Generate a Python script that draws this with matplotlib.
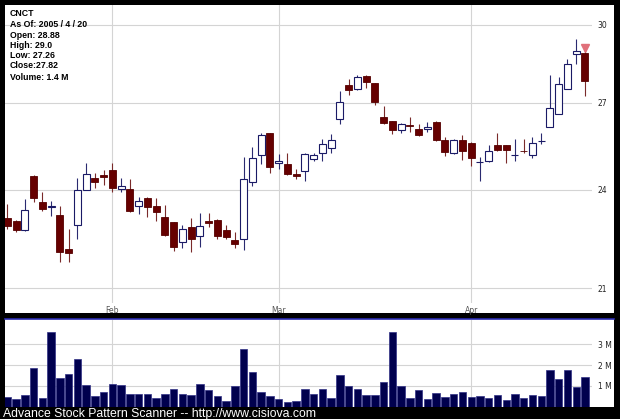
import matplotlib
matplotlib.use("Agg")
import matplotlib.pyplot as plt
import matplotlib.ticker as mticker
from matplotlib.patches import Rectangle
from matplotlib.lines import Line2D
import numpy as np
import pandas as pd

# ---------------- data ----------------
ticker = "CNCT"
holidays = ["2005-01-17", "2005-02-21", "2005-03-25"]
dates = pd.bdate_range("2005-01-13", "2005-04-20", freq="C", holidays=holidays)

opens = [23.09, 23.02, 22.74, 24.46, 23.60, 23.45, 23.20, 22.14, 22.88, 24.00,
         24.40, 24.50, 24.66, 24.01, 24.02, 23.47, 23.72, 23.47, 23.14, 22.97,
         22.36, 22.81, 22.54, 23.02, 23.04, 22.74, 22.43, 22.46, 24.24, 25.16,
         25.90, 24.87, 24.86, 24.51, 24.62, 25.01, 25.22, 25.41, 26.42, 27.67,
         27.52, 28.01, 27.73, 26.48, 26.33, 26.01, 26.21, 26.07, 26.05, 26.30,
         25.66, 25.22, 25.66, 25.58, 24.91, 24.94, 25.49, 25.49, 25.14, 25.30,
         25.16, 25.63, 26.14, 26.60, 27.51, 28.85, 28.88]
highs = [23.54, 23.05, 23.70, 24.48, 23.93, 23.65, 23.49, 22.76, 24.37, 24.90,
         24.55, 24.66, 24.88, 24.37, 24.35, 23.76, 23.76, 23.72, 23.51, 22.99,
         22.88, 23.10, 23.26, 23.26, 23.07, 22.89, 22.67, 25.10, 25.43, 25.90,
         25.92, 25.18, 25.24, 24.68, 25.22, 25.24, 25.72, 25.87, 27.43, 27.88,
         28.04, 28.03, 27.75, 26.88, 26.35, 26.28, 26.48, 26.25, 26.32, 26.34,
         25.79, 25.70, 25.84, 25.60, 25.10, 25.49, 25.93, 25.51, 25.72, 25.70,
         25.76, 25.90, 28.04, 27.96, 28.64, 29.43, 29.00]
lows = [22.76, 22.66, 22.71, 23.61, 23.33, 23.17, 21.76, 21.76, 22.44, 23.98,
        24.05, 24.15, 23.94, 23.94, 23.28, 23.23, 23.12, 23.02, 22.54, 22.08,
        22.19, 22.06, 22.21, 22.81, 22.46, 22.44, 22.18, 22.11, 24.13, 24.85,
        24.55, 24.68, 24.48, 24.35, 24.29, 24.96, 24.96, 25.24, 26.22, 27.27,
        27.48, 27.55, 26.93, 26.22, 25.87, 25.93, 25.95, 25.81, 25.95, 25.64,
        25.13, 25.18, 24.99, 24.77, 24.29, 24.92, 25.29, 24.90, 24.96, 25.21,
        25.04, 25.52, 26.12, 26.58, 27.49, 28.45, 27.26]
closes = [22.86, 22.74, 23.35, 23.73, 23.38, 23.47, 22.06, 22.04, 24.00, 24.51,
          24.26, 24.42, 24.05, 24.11, 23.33, 23.65, 23.44, 23.30, 22.58, 22.21,
          22.75, 22.44, 22.86, 22.95, 22.54, 22.50, 22.29, 24.35, 25.07, 25.84,
          24.76, 24.95, 24.52, 24.46, 25.18, 25.15, 25.52, 25.66, 27.04, 27.48,
          27.94, 27.76, 27.03, 26.28, 26.02, 26.22, 26.16, 25.84, 26.12, 25.66,
          25.25, 25.66, 25.29, 25.04, 24.93, 25.29, 25.33, 25.33, 25.16, 25.28,
          25.58, 25.65, 26.82, 27.70, 28.46, 28.96, 27.82]
volumes_m = [0.44, 0.35, 0.56, 1.85, 0.41, 3.60, 1.39, 1.57, 2.31, 1.03,
             0.51, 0.70, 1.09, 1.05, 0.62, 0.62, 0.62, 0.41, 0.59, 0.83,
             0.59, 0.56, 1.07, 0.80, 0.49, 0.28, 0.99, 2.78, 1.68, 0.70,
             0.51, 0.35, 0.22, 0.28, 0.83, 0.59, 0.83, 0.41, 1.50, 1.00,
             0.83, 0.56, 0.56, 1.20, 3.60, 1.00, 0.41, 0.80, 0.35, 0.65,
             0.44, 0.59, 0.70, 0.44, 0.52, 0.41, 0.56, 0.31, 0.62, 0.41,
             0.56, 0.49, 1.74, 1.31, 1.78, 0.93, 1.44]

price_ticks = [21, 24, 27, 30]
volume_ticks = [1, 2, 3]
volume_labels = ["1 M", "2 M", "3 M"]

info_lines = ["CNCT", "As Of: 2005 / 4 / 20", "Open: 28.88", "High: 29.0",
              "Low: 27.26", "Close:27.82", "Volume: 1.4 M"]
footer = "Advance Stock Pattern Scanner -- http://www.cisiova.com"

# ---------------- layout ----------------
W, H = 620, 419
fig = plt.figure(figsize=(W / 100, H / 100), dpi=100, facecolor="black")


def fr(x0, y0, x1, y1):
    """pixel box (top-left origin) -> figure fraction rect"""
    return [x0 / W, 1 - y1 / H, (x1 - x0) / W, (y1 - y0) / H]


# white panels
for (x0, y0, x1, y1) in [(5, 5, 614, 313), (5, 319, 614, 407)]:
    r = fr(x0, y0, x1, y1)
    fig.patches.append(Rectangle((r[0], r[1]), r[2], r[3], transform=fig.transFigure,
                                 facecolor="white", edgecolor="none", zorder=-5))
fig.lines.append(Line2D([5 / W, 614 / W], [1 - 319 / H, 1 - 319 / H],
                        transform=fig.transFigure, color="#2b2bb0", lw=1.2, zorder=5))

ax = fig.add_axes(fr(5, 5, 592, 303))
axv = fig.add_axes(fr(5, 320, 592, 406.5))

x = np.arange(len(dates))
o = np.array(opens); h = np.array(highs); l = np.array(lows); c = np.array(closes)
up = c >= o

navy = "#1a1a66"
maroon = "#660000"
grid_c = "#d4d4d4"

month_pos = [i for i in range(1, len(dates)) if dates[i].month != dates[i - 1].month]
month_lab = [dates[i].strftime("%b") for i in month_pos]

for a in (ax, axv):
    a.set_facecolor("white")
    for s in a.spines.values():
        s.set_visible(False)
    a.set_xlim(-0.27, 66.8)
    a.set_xticks(month_pos)
    a.grid(True, color=grid_c, lw=0.8)
    a.set_axisbelow(True)
    a.yaxis.tick_right()

# candles
ax.set_yscale("log")
ax.set_ylim(20.59, 30.82)
ax.vlines(x[up], l[up], h[up], color="#2a2a70", lw=0.8, zorder=2)
ax.vlines(x[~up], l[~up], h[~up], color="#7a2a2a", lw=0.8, zorder=2)
bw = 0.8
ax.bar(x[up], np.maximum(c[up] - o[up], 0.02), bottom=o[up], width=bw,
       facecolor="white", edgecolor=navy, lw=0.8, zorder=3)
ax.bar(x[~up], np.maximum(o[~up] - c[~up], 0.02), bottom=c[~up], width=bw,
       facecolor=maroon, edgecolor="#550000", lw=0.6, zorder=3)
ax.plot(x[-1], h[-1] * 1.003, marker="v", color="#e0707a", markersize=6,
        linestyle="none", zorder=4)

ax.set_yticks(price_ticks)
ax.yaxis.set_major_formatter(mticker.FuncFormatter(lambda v, p: f"{v:.0f}"))
ax.yaxis.set_minor_locator(mticker.NullLocator())
ax.yaxis.set_minor_formatter(mticker.NullFormatter())
ax.tick_params(axis="y", length=0, pad=4, labelsize=5.5, labelcolor="#222222")
ax.set_xticklabels(month_lab)
ax.tick_params(axis="x", length=0, pad=2.5, labelsize=5.5, labelcolor="#555555")

# volume
axv.bar(x, volumes_m, width=0.85, facecolor="#00004e", edgecolor="#303085", lw=0.5, zorder=3)
axv.set_ylim(0, 4.18)
axv.set_yticks(volume_ticks)
axv.set_yticklabels(volume_labels)
axv.tick_params(axis="y", length=0, pad=4, labelsize=5.5, labelcolor="#222222")
axv.tick_params(axis="x", length=0, labelbottom=False)

# info text
ys = [14, 24.7, 35, 45.3, 55.7, 66, 77]
for s, yy in zip(info_lines, ys):
    fig.text(10 / W, 1 - yy / H, s, va="center", ha="left", fontsize=6.3,
             fontweight="bold", family="Liberation Sans", color="black")

fig.text(3 / W, 1 - 417 / H, footer, va="baseline", ha="left", fontsize=8.8,
         family="Liberation Sans", color="white")

fig.savefig("out.png", dpi=100, facecolor="black")
